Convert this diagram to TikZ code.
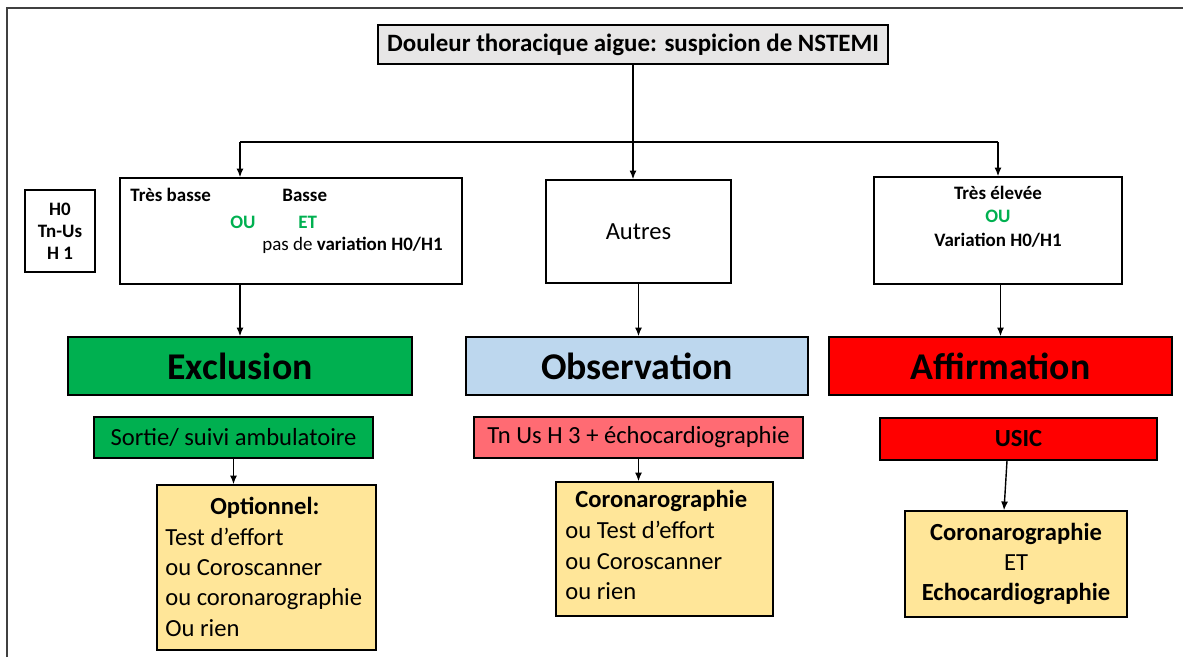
\documentclass[tikz,border=0pt]{standalone}
\usepackage{fontspec}
\setmainfont{Carlito}
\usetikzlibrary{arrows.meta}

\definecolor{exclgreen}{HTML}{00B050}
\definecolor{obsblue}{HTML}{BDD7EE}
\definecolor{affred}{HTML}{FF0000}
\definecolor{tnpink}{HTML}{FF6B73}
\definecolor{optyellow}{HTML}{FFE699}
\definecolor{topgrey}{HTML}{E7E6E6}

\tikzstyle{box}=[draw,line width=0.8pt,inner sep=0pt,font=\fontsize{14}{17}\selectfont]
\tikzstyle{bigbox}=[box,minimum height=1.16cm,font=\fontsize{21.5}{25}\selectfont\bfseries]
\tikzstyle{subbox}=[box,minimum height=0.82cm]
\tikzstyle{small}=[inner sep=0pt,font=\fontsize{10.8}{13.3}\selectfont]
\tikzstyle{list}=[inner sep=0pt,anchor=west,align=left,font=\fontsize{14}{17.3}\selectfont]
\tikzstyle{arr}=[line width=0.8pt,-{Latex[length=5pt,width=4pt]}]

\begin{document}
\begin{tikzpicture}[x=0.02cm,y=-0.02cm]
\useasboundingbox (0,0) rectangle (1183,657);

% FRAME
\draw[line width=1.2pt,black!75] (7,657) -- (7,8) -- (1183,8);

% START
\node[box,fill=topgrey,minimum width=10.2cm,minimum height=0.78cm,font=\fontsize{14.2}{17}\selectfont\bfseries] (douleur) at (633,44.5) {Douleur thoracique aigue: suspicion de NSTEMI};

% TROPONINE LEVELS
\node[box,minimum width=1.4cm,minimum height=1.64cm] (hzero) at (60,231) {};
\node[small,align=center,font=\fontsize{10.8}{12.4}\selectfont\bfseries] at (hzero) {H0\\Tn-Us\\H 1};

\node[box,minimum width=6.84cm,minimum height=2.12cm] (basse) at (291,231) {};
\node[small,anchor=west,font=\fontsize{10.8}{13}\selectfont\bfseries] (tb) at (130,195) {Très basse};
\node[small,anchor=west,font=\fontsize{10.8}{13}\selectfont\bfseries] (bs) at (282,195) {Basse};
\node[small,anchor=west,text=exclgreen,font=\fontsize{10.8}{13}\selectfont\bfseries] (ou1) at (230,222) {OU};
\node[small,anchor=west,text=exclgreen,font=\fontsize{10.8}{13}\selectfont\bfseries] (et1) at (298,222) {ET};
\node[small,anchor=west] (pasvar) at (262,245) {pas de \textbf{variation H0/H1}};

\node[box,minimum width=3.7cm,minimum height=2.06cm] (autres) at (638.5,231.5) {Autres};

\node[box,minimum width=4.96cm,minimum height=2.14cm] (elevee) at (998,230.5) {};
\node[small,align=center,font=\fontsize{10.8}{13.3}\selectfont\bfseries] at (998,216.5) {Très élevée\\\textcolor{exclgreen}{OU}\\Variation H0/H1};

% DECISION
\node[bigbox,fill=exclgreen,minimum width=6.88cm] (excl) at (240,366) {Exclusion};
\node[bigbox,fill=obsblue,minimum width=6.84cm] (obs) at (637,366) {Observation};
\node[bigbox,fill=affred,minimum width=6.86cm] (aff) at (1000.5,366) {Affirmation};

% FOLLOW UP
\node[subbox,fill=exclgreen,minimum width=5.58cm] (sortie) at (233.5,437.5) {Sortie/ suivi ambulatoire};
\node[subbox,fill=tnpink,minimum width=6.58cm] (tnus) at (638.5,437.5) {Tn Us H 3 + échocardiographie};
\node[subbox,fill=affred,minimum width=5.54cm,minimum height=0.84cm,font=\fontsize{14}{17}\selectfont\bfseries] (usic) at (1018.5,439) {USIC};

% EXAMS
\node[box,fill=optyellow,minimum width=4.38cm,minimum height=3.3cm] (opt) at (266.5,567.5) {};
\node[list] (optlist) at (165,567) {\hspace*{0.9cm}\textbf{Optionnel:}\\Test d’effort\\ou Coroscanner\\ou coronarographie\\Ou rien};

\node[box,fill=optyellow,minimum width=4.34cm,minimum height=2.68cm] (coro) at (664.5,549) {};
\node[list,font=\fontsize{14}{17.6}\selectfont] (corolist) at (565,545) {\hspace*{0.2cm}\textbf{Coronarographie}\\ou Test d’effort\\ou Coroscanner\\ou rien};

\node[box,fill=optyellow,minimum width=4.44cm,minimum height=2.12cm,align=center] (echo) at (1016,564)
  {\textbf{Coronarographie}\\ET\\\textbf{Echocardiographie}};

% CONNECTORS
\coordinate (jl) at (240,142);
\coordinate (jr) at (998,142);
\draw[line width=0.8pt] (jl) -- (jr);
\draw[arr] (douleur.south) -- (douleur.south |- autres.north);
\draw[arr] (jl) -- (jl |- basse.north);
\draw[arr] (jr) -- (jr |- elevee.north);

\draw[arr] (jl |- basse.south) -- (excl.north);
\draw[arr] (autres.south) -- (autres.south |- obs.north);
\draw[arr] (aff.north |- elevee.south) -- (aff.north);

\draw[arr] (sortie.south) -- (sortie.south |- opt.north);
\draw[arr] (tnus.south) -- (tnus.south |- coro.north);
\draw[arr] ([xshift=-0.23cm]usic.south) -- ([xshift=-0.24cm]echo.north);

\end{tikzpicture}
\end{document}
